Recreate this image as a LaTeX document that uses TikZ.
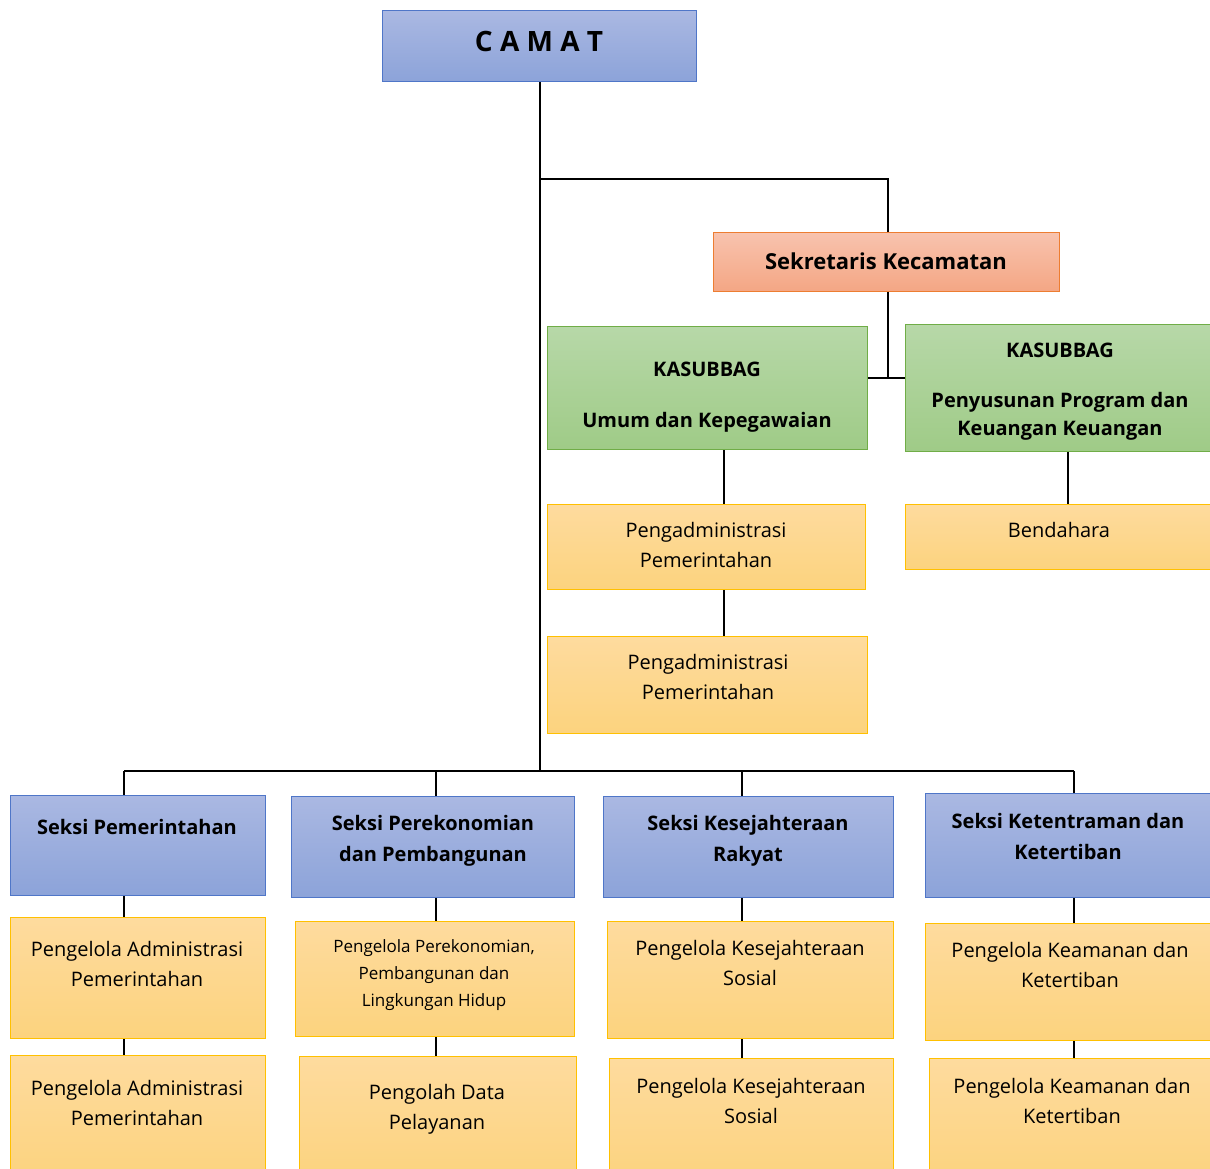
\documentclass[tikz,border=0pt]{standalone}
\usepackage{fontspec}
\setmainfont{Open Sans}
\usetikzlibrary{calc}
\definecolor{bluetop}{HTML}{AAB8E2}
\definecolor{bluebot}{HTML}{8CA3D9}
\definecolor{bluebd}{HTML}{4F76C8}
\definecolor{redtop}{HTML}{F8C3AE}
\definecolor{redbot}{HTML}{F4A684}
\definecolor{redbd}{HTML}{ED7D31}
\definecolor{greentop}{HTML}{B7D8A8}
\definecolor{greenbot}{HTML}{9FCB87}
\definecolor{greenbd}{HTML}{70AD47}
\definecolor{yellowtop}{HTML}{FEDB9E}
\definecolor{yellowbot}{HTML}{FCD37E}
\definecolor{yellowbd}{HTML}{FFC000}
\tikzset{
	boxbase/.style={rectangle, line width=1.2pt, inner sep=0pt, anchor=north west},
	bluebox/.style={boxbase, draw=bluebd, top color=bluetop, bottom color=bluebot},
	redbox/.style={boxbase, draw=redbd, top color=redtop, bottom color=redbot},
	greenbox/.style={boxbase, draw=greenbd, top color=greentop, bottom color=greenbot},
	yellowbox/.style={boxbase, draw=yellowbd, top color=yellowtop, bottom color=yellowbot},
	txt/.style={align=center, inner sep=0pt, font=\fontsize{20}{30}\selectfont},
	txtb/.style={align=center, inner sep=0pt, font=\bfseries\fontsize{20}{31}\selectfont},
	link/.style={line width=2pt, black}
}

\begin{document}
\begin{tikzpicture}[x=1pt, y=-1pt]
			%%%%% START %%%%%
			\useasboundingbox (0,0) rectangle (1210,1169);
			\clip (0,0) rectangle (1210,1169);
			
			\node[bluebox, minimum width=314, minimum height=71] (camat) at (382,10) {};
			\node[redbox, minimum width=346, minimum height=59] (sek) at (713,232) {};
			\node[greenbox, minimum width=320, minimum height=123] (umum) at (547,326) {};
			\node[greenbox, minimum width=315, minimum height=127] (pen) at (905,324) {};
			\node[yellowbox, minimum width=318, minimum height=85] (adm1) at (547,504) {};
			\node[yellowbox, minimum width=320, minimum height=97] (adm2) at (547,636) {};
			\node[yellowbox, minimum width=315, minimum height=65] (bend) at (905,504) {};
			
			\node[bluebox, minimum width=255, minimum height=100] (s1) at (10,795) {};
			\node[bluebox, minimum width=283, minimum height=101] (s2) at (291,796) {};
			\node[bluebox, minimum width=290, minimum height=101] (s3) at (603,796) {};
			\node[bluebox, minimum width=295, minimum height=104] (s4) at (925,793) {};
			
			\node[yellowbox, minimum width=255, minimum height=121] (p1) at (10,917) {};
			\node[yellowbox, minimum width=279, minimum height=115] (p2) at (295,921) {};
			\node[yellowbox, minimum width=286, minimum height=117] (p3) at (607,921) {};
			\node[yellowbox, minimum width=295, minimum height=117] (p4) at (925,923) {};
			
			\node[yellowbox, minimum width=255, minimum height=125] (q1) at (10,1055) {};
			\node[yellowbox, minimum width=277, minimum height=125] (q2) at (299,1056) {};
			\node[yellowbox, minimum width=284, minimum height=125] (q3) at (609,1058) {};
			\node[yellowbox, minimum width=291, minimum height=125] (q4) at (929,1058) {};
			
			% texts
			\node[txtb, font=\bfseries\fontsize{28}{34}\selectfont] (camat-t) at (539,42) {C A M A T};
			\node[txtb, font=\bfseries\fontsize{22}{30}\selectfont] (sek-t) at (886,261) {Sekretaris Kecamatan};
			\node[txtb] (umum-t) at (707,397) {KASUBBAG\\[20pt]Umum dan Kepegawaian};
			\node[txtb, font=\bfseries\fontsize{20}{28}\selectfont] (pen-t) at (1060,392) {KASUBBAG\\[22pt]Penyusunan Program dan\\Keuangan Keuangan};
			\node[txt] (adm1-t) at (706,545) {Pengadministrasi\\Pemerintahan};
			\node[txt] (adm2-t) at (708,677) {Pengadministrasi\\Pemerintahan};
			\node[txt] (bend-t) at (1059,530) {Bendahara};
			
			\node[txtb] (s1-t) at (137,827) {Seksi Pemerintahan};
			\node[txtb] (s2-t) at (433,841) {Seksi Perekonomian\\dan Pembangunan};
			\node[txtb] (s3-t) at (748,841) {Seksi Kesejahteraan\\Rakyat};
			\node[txtb] (s4-t) at (1068,836) {Seksi Ketentraman dan\\Ketertiban};
			
			\node[txt] (p1-t) at (137,964) {Pengelola Administrasi\\Pemerintahan};
			\node[txt, font=\fontsize{17}{27}\selectfont] (p2-t) at (434,975) {Pengelola Perekonomian,\\Pembangunan dan\\Lingkungan Hidup};
			\node[txt] (p3-t) at (750,963) {Pengelola Kesejahteraan\\Sosial};
			\node[txt] (p4-t) at (1070,965) {Pengelola Keamanan dan\\Ketertiban};
			
			\node[txt] (q1-t) at (137,1103) {Pengelola Administrasi\\Pemerintahan};
			\node[txt] (q2-t) at (437,1109) {Pengolah Data\\Pelayanan};
			\node[txt] (q3-t) at (751,1101) {Pengelola Kesejahteraan\\Sosial};
			\node[txt] (q4-t) at (1072,1101) {Pengelola Keamanan dan\\Ketertiban};
			
			% connectors
			\coordinate (br) at (538,179);
			\coordinate (jn) at (888,378);
			\coordinate (ku) at (724,0);
			\coordinate (kp) at (1068,0);
			\coordinate (c1) at (124,771);
			\coordinate (c2) at (436,771);
			\coordinate (c3) at (742,771);
			\coordinate (c4) at (1074,771);
			
			\draw[link] (camat.south) -- (camat.south |- c1);
			\draw[link] (camat.south |- br) -| (jn |- sek.north);
			\draw[link] (jn |- sek.south) -- (jn);
			\draw[link] (umum.east |- jn) -- (pen.west |- jn);
			\draw[link] (umum.south -| ku) -- (adm1.north -| ku);
			\draw[link] (adm1.south -| ku) -- (adm2.north -| ku);
			\draw[link] (pen.south -| kp) -- (bend.north -| kp);
			
			\draw[link] (c1) -- (c4);
			\draw[link] (c1) -- (s1.north -| c1);
			\draw[link] (s1.south -| c1) -- (p1.north -| c1);
			\draw[link] (p1.south -| c1) -- (q1.north -| c1);
			\draw[link] (c2) -- (s2.north -| c2);
			\draw[link] (s2.south -| c2) -- (p2.north -| c2);
			\draw[link] (p2.south -| c2) -- (q2.north -| c2);
			\draw[link] (c3) -- (s3.north -| c3);
			\draw[link] (s3.south -| c3) -- (p3.north -| c3);
			\draw[link] (p3.south -| c3) -- (q3.north -| c3);
			\draw[link] (c4) -- (s4.north -| c4);
			\draw[link] (s4.south -| c4) -- (p4.north -| c4);
			\draw[link] (p4.south -| c4) -- (q4.north -| c4);
			
			%%%%% END %%%%%
\end{tikzpicture}
\end{document}
